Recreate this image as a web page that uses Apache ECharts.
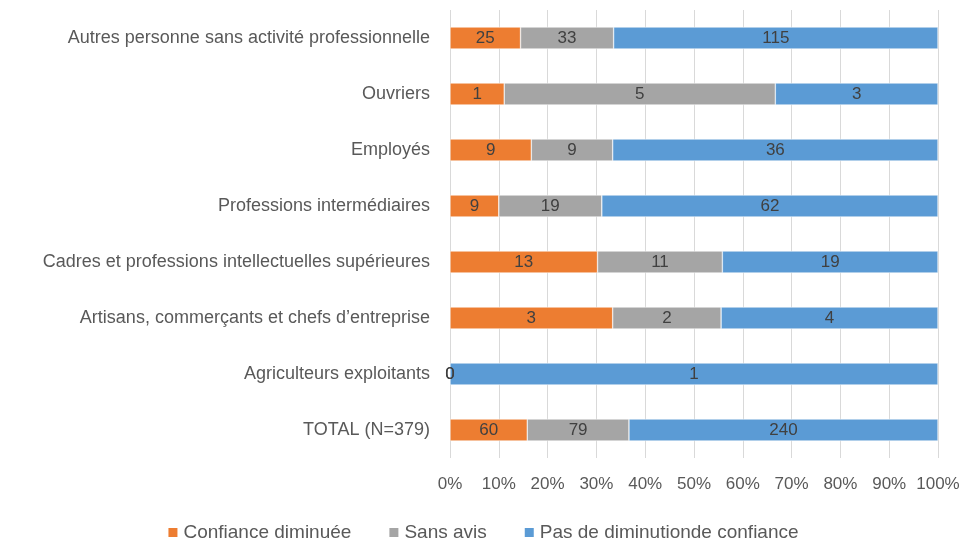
<!DOCTYPE html>
<html>
<head>
<meta charset="utf-8">
<script src="https://cdn.jsdelivr.net/npm/echarts@6/dist/echarts.min.js"></script>
<style>
  html, body { margin: 0; padding: 0; background: #fff; }
  #chart { width: 965px; height: 541px; }
</style>
</head>
<body>
<div id="chart"></div>
<script>
// rows bottom → top, as ECharts draws a category yAxis
const categories = [
  'TOTAL (N=379)',
  'Agriculteurs exploitants',
  'Artisans, commerçants et chefs d\u2019entreprise',
  'Cadres et professions intellectuelles supérieures',
  'Professions intermédiaires',
  'Employés',
  'Ouvriers',
  'Autres personne sans activité professionnelle',
];
const confianceDiminuee = [60, 0, 3, 13, 9, 9, 1, 25];
const sansAvis          = [79, 0, 2, 11, 19, 9, 5, 33];
const pasDeDiminution   = [240, 1, 4, 19, 62, 36, 3, 115];
const xTicks = [0, 10, 20, 30, 40, 50, 60, 70, 80, 90, 100];

const FONT = 'Liberation Sans';
const TEXT = '#595959';

const totals = categories.map((_, i) => confianceDiminuee[i] + sansAvis[i] + pasDeDiminution[i]);

function seriesOf(name, raw, color) {
  return {
    name, type: 'bar', stack: 'total', barWidth: 22,
    data: raw.map((v, i) => ({ value: v / totals[i] * 100, raw: v })),
    itemStyle: { color, borderColor: '#fff', borderWidth: 0.5 },
    label: {
      show: true, position: 'inside', color: '#404040',
      fontFamily: FONT, fontSize: 17,
      formatter: p => String(p.data.raw),
    },
  };
}

const c = echarts.init(document.getElementById('chart'), null, { renderer: 'canvas' });
c.setOption({
  animation: false,
  textStyle: { fontFamily: FONT },
  grid: { left: 450, right: 27, top: 10, bottom: 83 },
  legend: {
    top: 518, left: 'center', icon: 'rect', itemWidth: 11, itemHeight: 11, itemGap: 36,
    textStyle: { color: TEXT, fontFamily: FONT, fontSize: 19 },
    data: ['Confiance diminuée', 'Sans avis', 'Pas de diminutionde confiance'],
  },
  xAxis: {
    type: 'value', min: 0, max: 100, interval: 10,
    axisLine: { show: false }, axisTick: { show: false },
    splitLine: { lineStyle: { color: '#d9d9d9' } },
    axisLabel: { color: TEXT, fontSize: 17, margin: 18, formatter: v => xTicks.includes(v) ? v + '%' : '' },
  },
  yAxis: {
    type: 'category', data: categories,
    axisLine: { show: false }, axisTick: { show: false },
    axisLabel: { color: TEXT, fontSize: 18, margin: 20 },
  },
  series: [
    seriesOf('Confiance diminuée', confianceDiminuee, '#ED7D31'),
    seriesOf('Sans avis', sansAvis, '#A5A5A5'),
    seriesOf('Pas de diminutionde confiance', pasDeDiminution, '#5B9BD5'),
  ],
});
</script>
</body>
</html>
